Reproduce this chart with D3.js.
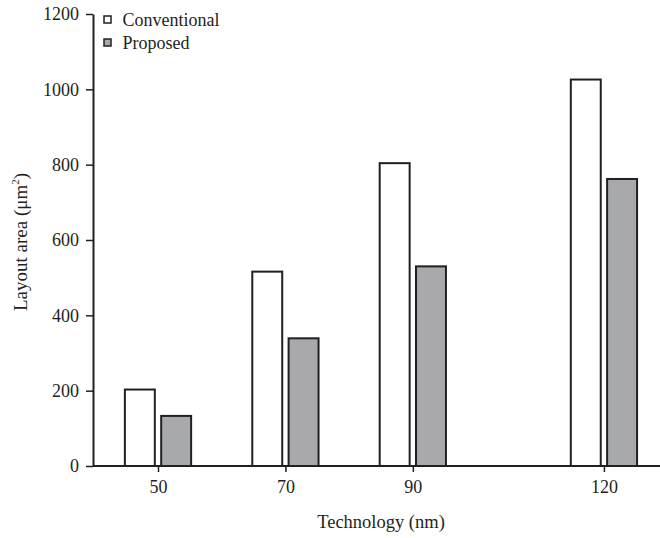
<!DOCTYPE html>
<html>
<head>
<meta charset="utf-8">
<script src="https://cdn.jsdelivr.net/npm/d3@7"></script>
<style>
  body { margin: 0; background: #fff; }
  svg text { font-family: "Liberation Serif", "Times New Roman", serif; fill: #231f20; }
</style>
</head>
<body>
<div id="chart"></div>
<script>
// data
const technologies = [50, 70, 90, 120];
const conventional = [203, 516, 804, 1026];
const proposed = [133, 339, 530, 762];
const yTicks = [0, 200, 400, 600, 800, 1000, 1200];
const seriesNames = ["Conventional", "Proposed"];

const width = 660, height = 538;
const margin = { left: 93, top: 14, right: 0, bottom: 72 };
const ink = "#231f20";
const colors = ["#ffffff", "#a7a9ac"];

const svg = d3.select("#chart")
    .append("svg")
    .attr("width", width)
    .attr("height", height);

// technology axis is linear (120 sits further out than the others)
const x = d3.scaleLinear()
    .domain([40, 128.8])
    .range([margin.left + 1.3, width - margin.right]);

const y = d3.scaleLinear()
    .domain([0, 1200])
    .range([height - margin.bottom, margin.top]);

const barW = 4.7; // in nm units
const gap = 1.0;

const series = [conventional, proposed];
series.forEach((vals, s) => {
    svg.append("g")
        .selectAll("rect")
        .data(technologies)
        .join("rect")
        .attr("x", (d, i) => s === 0 ? x(d - gap / 2 - barW) : x(d + gap / 2))
        .attr("y", (d, i) => y(vals[i]))
        .attr("width", x(40 + barW) - x(40))
        .attr("height", (d, i) => y(0) - y(vals[i]))
        .attr("fill", colors[s])
        .attr("stroke", ink)
        .attr("stroke-width", 2);
});

// x axis
const xAxis = svg.append("g")
    .attr("transform", `translate(0,${y(0)})`)
    .call(d3.axisBottom(x).tickValues(technologies).tickFormat(d3.format("d"))
        .tickSize(6).tickSizeOuter(0).tickPadding(8));
xAxis.select(".domain").attr("d", `M${margin.left},0H${width}`)
    .attr("stroke", ink).attr("stroke-width", 2);
xAxis.selectAll(".tick line").attr("stroke", ink).attr("stroke-width", 1.5);
xAxis.selectAll(".tick text").attr("font-size", 18).attr("font-family", "Liberation Serif");

// y axis
const yAxis = svg.append("g")
    .attr("transform", `translate(${margin.left},0)`)
    .call(d3.axisLeft(y).tickValues(yTicks).tickFormat(d3.format("d"))
        .tickSize(7).tickSizeOuter(0).tickPadding(7));
yAxis.select(".domain").attr("stroke", ink).attr("stroke-width", 2);
yAxis.selectAll(".tick line").attr("stroke", ink).attr("stroke-width", 1.5);
yAxis.selectAll(".tick text").attr("font-size", 18).attr("font-family", "Liberation Serif");

// axis titles
svg.append("text")
    .attr("x", 381)
    .attr("y", 528)
    .attr("text-anchor", "middle")
    .attr("font-size", 18.5)
    .text("Technology (nm)");

const yt = svg.append("text")
    .attr("transform", `translate(27,242) rotate(-90)`)
    .attr("text-anchor", "middle")
    .attr("font-size", 19);
yt.append("tspan").text("Layout area (μm");
yt.append("tspan").attr("font-size", 11).attr("dy", -8).text("2");
yt.append("tspan").attr("dy", 8).text(")");

// legend
const legend = svg.append("g")
    .selectAll("g")
    .data(seriesNames)
    .join("g")
    .attr("transform", (d, i) => `translate(104,${16 + i * 23})`);
legend.append("rect")
    .attr("width", 7)
    .attr("height", 7)
    .attr("fill", (d, i) => colors[i])
    .attr("stroke", ink)
    .attr("stroke-width", 1.5);
legend.append("text")
    .attr("x", 18.5)
    .attr("y", 9.5)
    .attr("font-size", 18)
    .text(d => d);
</script>
</body>
</html>
